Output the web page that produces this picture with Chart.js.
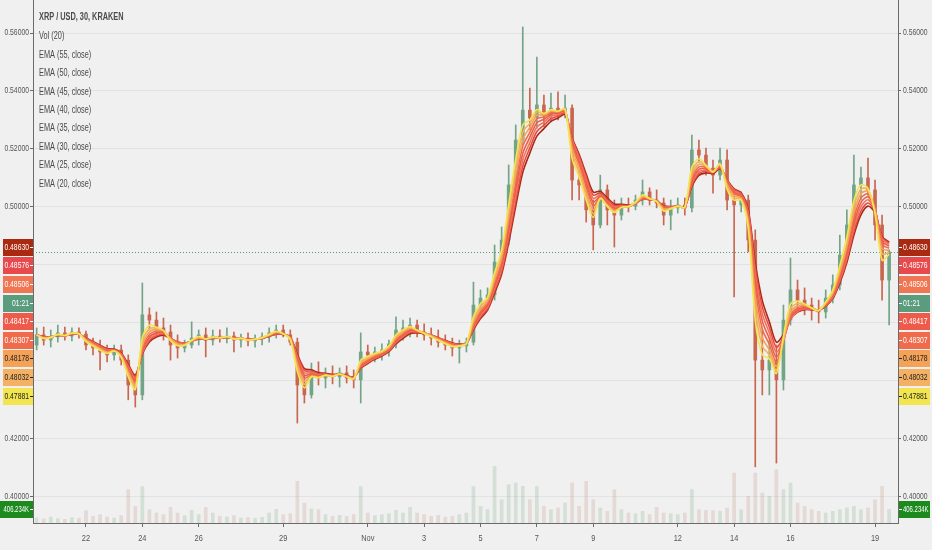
<!DOCTYPE html>
<html>
<head>
<meta charset="utf-8">
<title>XRP / USD, 30, KRAKEN</title>
<style>
  html, body { margin: 0; padding: 0; background: #f0f0f0; }
  #wrap { position: relative; width: 932px; height: 550px; }
</style>
</head>
<body>
<div id="wrap"><canvas id="chart"></canvas></div>
<script src="https://cdn.jsdelivr.net/npm/chart.js@4.4.0/dist/chart.umd.min.js"></script>
<script>
// XRP / USD 30m (Kraken), shown here as 6h candles, Oct 20 - Nov 19

// time line: day numbers counted from Oct 1 (Nov 1 = 32)
const firstCandleDay = 20.25;
const candleStepDays = 0.25;
const barsPerCandle = 12; // 30m bars inside one 6h candle

const dateTicks = [22, 24, 26, 29, 32, 34, 36, 38, 40, 43, 45, 47, 50];
const dateLabels = ["22", "24", "26", "29", "Nov", "3", "5", "7", "9", "12", "14", "16", "19"];
const priceTicks = [0.40, 0.42, 0.44, 0.46, 0.48, 0.50, 0.52, 0.54, 0.56];

const openP = [
  .4524,.4559,.4541,.4552,.4566,.4555,.4569,.4562,.4524,.4514,.4500,.4490,.4507,.4472,.4386,.4352,
  .4628,.4610,.4583,.4569,.4524,.4514,.4524,.4548,.4559,.4541,.4555,.4548,.4555,.4541,.4548,.4538,
  .4545,.4552,.4566,.4576,.4559,.4534,.4386,.4352,.4431,.4410,.4424,.4414,.4428,.4410,.4404,.4500,
  .4490,.4500,.4507,.4528,.4576,.4583,.4593,.4569,.4559,.4548,.4534,.4524,.4514,.4521,.4534,.4662,
  .4686,.4697,.4810,.4886,.5076,.5231,.5334,.5307,.5352,.5317,.5341,.5328,.5341,.5093,.5076,.4990,
  .4938,.5059,.4990,.4972,.5007,.5003,.5024,.5052,.5024,.5014,.4972,.4997,.5007,.4997,.5197,.5179,
  .5134,.5110,.5162,.5024,.5007,.5024,.4886,.4472,.4438,.4472,.4404,.4610,.4714,.4679,.4662,.4645,
  .4638,.4686,.4731,.4834,.4938,.5076,.5100,.5059,.4938,.4748
];
const highP = [
  .4583,.4586,.4576,.4593,.4586,.4583,.4583,.4572,.4548,.4541,.4524,.4524,.4524,.4490,.4421,.4738,
  .4652,.4638,.4617,.4593,.4559,.4541,.4604,.4576,.4583,.4576,.4576,.4583,.4569,.4562,.4566,.4559,
  .4566,.4583,.4593,.4593,.4576,.4548,.4421,.4462,.4466,.4445,.4452,.4445,.4452,.4438,.4566,.4524,
  .4517,.4528,.4541,.4621,.4610,.4617,.4610,.4597,.4583,.4576,.4559,.4548,.4541,.4548,.4741,.4714,
  .4721,.4869,.4931,.5145,.5283,.5621,.5410,.5517,.5386,.5393,.5397,.5386,.5352,.5128,.5093,.5024,
  .5110,.5076,.5024,.5031,.5031,.5041,.5093,.5066,.5059,.5031,.5024,.5031,.5031,.5248,.5231,.5203,
  .5162,.5203,.5197,.5059,.5052,.5041,.4921,.4576,.4541,.4524,.4662,.4824,.4748,.4721,.4686,.4679,
  .4714,.4766,.4903,.4990,.5179,.5138,.5169,.5093,.4972,.4852
];
const lowP = [
  .4507,.4524,.4517,.4534,.4541,.4538,.4548,.4507,.4490,.4438,.4466,.4472,.4455,.4335,.4310,.4335,
  .4576,.4559,.4541,.4472,.4479,.4500,.4514,.4524,.4483,.4524,.4534,.4531,.4500,.4517,.4521,.4517,
  .4524,.4534,.4548,.4552,.4524,.4255,.4324,.4341,.4386,.4376,.4390,.4379,.4393,.4376,.4324,.4466,
  .4466,.4472,.4486,.4514,.4541,.4552,.4552,.4541,.4524,.4517,.4507,.4486,.4462,.4500,.4524,.4628,
  .4645,.4679,.4790,.4869,.5014,.5214,.5266,.5272,.5276,.5293,.5300,.5307,.5024,.5024,.4948,.4852,
  .4928,.4938,.4862,.4955,.4983,.4990,.5007,.5007,.4997,.4938,.4921,.4979,.4972,.4983,.5155,.5110,
  .5048,.5093,.4990,.4690,.4983,.4845,.4104,.4352,.4352,.4117,.4369,.4593,.4645,.4628,.4610,.4600,
  .4617,.4669,.4714,.4810,.4921,.5024,.5041,.4886,.4679,.4593
];
const closeP = [
  .4559,.4541,.4552,.4566,.4555,.4569,.4562,.4524,.4514,.4500,.4490,.4507,.4472,.4386,.4352,.4628,
  .4610,.4583,.4569,.4524,.4514,.4524,.4548,.4559,.4541,.4555,.4548,.4555,.4541,.4548,.4538,.4545,
  .4552,.4566,.4576,.4559,.4534,.4386,.4352,.4431,.4410,.4424,.4414,.4428,.4410,.4404,.4500,.4490,
  .4500,.4507,.4528,.4576,.4583,.4593,.4569,.4559,.4548,.4534,.4524,.4514,.4521,.4534,.4662,.4686,
  .4697,.4810,.4886,.5076,.5231,.5334,.5307,.5352,.5317,.5341,.5328,.5341,.5093,.5076,.4990,.4938,
  .5059,.4990,.4972,.5007,.5003,.5024,.5052,.5024,.5014,.4972,.4997,.5007,.4997,.5197,.5179,.5134,
  .5110,.5162,.5024,.5007,.5024,.4886,.4472,.4438,.4472,.4404,.4610,.4714,.4679,.4662,.4645,.4638,
  .4686,.4731,.4834,.4938,.5076,.5100,.5059,.4938,.4748,.4845
];
// volume in thousands (K)
const volK = [
  150,120,180,130,110,160,140,370,200,250,180,150,220,1000,500,1090,
  400,300,250,470,300,220,380,250,470,300,200,180,220,150,160,140,
  170,300,410,250,280,1250,600,420,400,250,200,230,200,250,1090,300,
  220,250,280,380,300,470,300,250,200,230,180,200,250,300,1090,500,
  400,1700,700,1150,1200,1100,700,1090,500,400,450,600,1200,500,1250,700,
  450,350,1000,400,300,280,350,250,470,300,280,250,300,1000,400,380,
  370,350,450,1500,400,800,1500,900,800,1600,1000,1200,600,500,400,350,
  300,350,400,450,500,400,450,700,1100,406.234
];

const emaPeriods = [55, 50, 45, 40, 35, 30, 25, 20];
const emaLast = [0.48630, 0.48576, 0.48506, 0.48417, 0.48307, 0.48178, 0.48032, 0.47881];
const emaColors = ["#a92a10", "#e8494c", "#f07552", "#ee5b4a", "#f06b4b", "#f3a257", "#f4b163", "#f3e550"];
const emaText = ["#fff", "#fff", "#fff", "#fff", "#fff", "#222", "#222", "#222"];
const countdown = "01:21";

const titleText = "XRP / USD, 30, KRAKEN";
const legendLines = ["Vol (20)"].concat(emaPeriods.map(p => "EMA (" + p + ", close)"));

// view window of the pane
const viewStartDay = 20.12, viewEndDay = 50.815;
const priceMin = 0.39103, priceMax = 0.57138;
const volAxisMax = 15700;

const FONT = '"Liberation Sans", Arial, sans-serif';
const upColor = "#72a486", downColor = "#c8664f";
const axisText = "#555";

const candleDay = i => firstCandleDay + i * candleStepDays;
const isUp = i => closeP[i] >= openP[i];

function emaSeries(period) {
  const a = 1 - Math.pow(1 - 2 / (period + 1), barsPerCandle);
  let e = closeP[0];
  return closeP.map((c, i) => {
    if (i > 0) e = e + a * (c - e);
    return { x: candleDay(i), y: e };
  });
}

const candleColors = closeP.map((c, i) => isUp(i) ? upColor : downColor);
const volColors = closeP.map((c, i) => isUp(i) ? "rgba(130,175,140,0.26)" : "rgba(195,150,135,0.26)");

const datasets = [];
emaPeriods.forEach((p, k) => {
  datasets.push({
    type: 'line',
    label: "EMA " + p,
    data: emaSeries(p),
    borderColor: emaColors[k],
    borderWidth: 1.6,
    pointRadius: 0,
    tension: 0.3,
    yAxisID: 'y',
    order: emaPeriods.length - k   // fastest EMA drawn last, on top
  });
});
datasets.push({
  label: "Wick",
  data: closeP.map((c, i) => ({ x: candleDay(i), y: [lowP[i], highP[i]] })),
  backgroundColor: candleColors,
  barThickness: 1,
  grouped: false,
  yAxisID: 'y',
  order: 20
});
datasets.push({
  label: "Body",
  data: closeP.map((c, i) => ({ x: candleDay(i), y: [openP[i], c] })),
  backgroundColor: candleColors,
  barThickness: 3,
  minBarLength: 1,
  grouped: false,
  yAxisID: 'y',
  order: 19
});
datasets.push({
  label: "Vol",
  data: volK.map((v, i) => ({ x: candleDay(i), y: v })),
  backgroundColor: volColors,
  barThickness: 3,
  grouped: false,
  yAxisID: 'yv',
  order: 30
});

// condensed text, like the narrow face of the original
function narrowText(ctx, text, x, y, size, weight, sx, align, color) {
  ctx.save();
  ctx.font = weight + " " + size + "px " + FONT;
  ctx.fillStyle = color;
  ctx.textBaseline = 'middle';
  ctx.textAlign = align;
  ctx.translate(x, y);
  ctx.scale(sx, 1);
  ctx.fillText(text, 0, 0);
  ctx.restore();
}

function drawTag(ctx, side, py, text, bg, fg, wide) {
  const h = 17;
  const x = side === 'left' ? (wide ? 0 : 3) : 899;
  const w = side === 'left' ? 33 - x : 31;
  const ry = Math.round(py);
  const sx = wide ? 0.7 : 0.8;
  ctx.fillStyle = bg;
  ctx.fillRect(x, ry - 8, w, h);
  ctx.strokeStyle = fg;
  ctx.lineWidth = 1;
  ctx.beginPath();
  if (side === 'left') { ctx.moveTo(30, ry + 0.5); ctx.lineTo(33, ry + 0.5); }
  else { ctx.moveTo(899, ry + 0.5); ctx.lineTo(902, ry + 0.5); }
  ctx.stroke();
  if (side === 'left') narrowText(ctx, text, 29, ry + 0.5, 8.5, "normal", sx, 'right', fg);
  else narrowText(ctx, text, 903, ry + 0.5, 8.5, "normal", sx, 'left', fg);
}

const overlay = {
  id: 'overlay',
  beforeDatasetsDraw(chart) {
    const ctx = chart.ctx, a = chart.chartArea;
    const py = Math.round(chart.scales.y.getPixelForValue(closeP[closeP.length - 1])) + 0.5;
    ctx.save();
    ctx.strokeStyle = "#4f9b7c";
    ctx.lineWidth = 1;
    ctx.setLineDash([1, 2]);
    ctx.beginPath();
    ctx.moveTo(a.left, py); ctx.lineTo(a.right, py);
    ctx.stroke();
    ctx.restore();
  },
  afterDraw(chart) {
    const ctx = chart.ctx, y = chart.scales.y, x = chart.scales.x, yv = chart.scales.yv;
    const a = chart.chartArea;
    ctx.save();
    // axis labels
    priceTicks.forEach(v => {
      const py = y.getPixelForValue(v);
      narrowText(ctx, v.toFixed(5), 29, py, 8.5, "normal", 0.8, 'right', axisText);
      narrowText(ctx, v.toFixed(5), 903, py, 8.5, "normal", 0.8, 'left', axisText);
    });
    dateTicks.forEach((d, k) => {
      narrowText(ctx, dateLabels[k], x.getPixelForValue(d), a.bottom + 15, 9.5, "normal", 0.78, 'center', axisText);
    });

    // legend block
    narrowText(ctx, titleText, 39, 17, 10.5, "bold", 0.7, 'left', "#4a4a4a");
    legendLines.forEach((t, k) => narrowText(ctx, t, 39, 36.5 + k * 18.4, 10.5, "normal", 0.7, 'left', "#4a4a4a"));

    // price scale tags, stacked so they do not overlap
    const tags = emaLast.map((v, k) => ({ v, text: v.toFixed(5), bg: emaColors[k], fg: emaText[k] }));
    tags.push({ v: closeP[closeP.length - 1], text: countdown, bg: "#5b9c7e", fg: "#fff" });
    tags.sort((p, q) => q.v - p.v);
    let prev = -Infinity;
    tags.forEach(t => {
      let py = y.getPixelForValue(t.v);
      if (py < prev + 18.6) py = prev + 18.6;
      prev = py;
      drawTag(ctx, 'left', py, t.text, t.bg, t.fg, false);
      drawTag(ctx, 'right', py, t.text, t.bg, t.fg, false);
    });
    const lastVol = volK[volK.length - 1];
    const vy = yv.getPixelForValue(lastVol);
    const vText = lastVol.toFixed(3) + "K";
    drawTag(ctx, 'left', vy, vText, "#1d8a1d", "#fff", true);
    drawTag(ctx, 'right', vy, vText, "#1d8a1d", "#fff", true);
    ctx.restore();
  }
};

const yAxisBase = {
  min: priceMin,
  max: priceMax,
  afterBuildTicks: s => { s.ticks = priceTicks.map(v => ({ value: v })); },
  ticks: { display: false },
  border: { color: "#6a6a6a" }
};

new Chart(document.getElementById("chart").getContext('2d'), {
  type: 'bar',
  data: { datasets: datasets },
  options: {
    responsive: true,
    maintainAspectRatio: false,
    animation: false,
    layout: { padding: 0 },
    plugins: { legend: { display: false }, tooltip: { enabled: false } },
    events: [],
    scales: {
      x: {
        type: 'linear',
        min: viewStartDay,
        max: viewEndDay,
        offset: false,
        afterBuildTicks: s => { s.ticks = dateTicks.map(v => ({ value: v })); },
        afterFit: s => { s.height = 27; s.paddingLeft = 0; s.paddingRight = 0; },
        grid: { offset: false, drawOnChartArea: false, tickLength: 4, color: "#6a6a6a" },
        border: { color: "#6a6a6a" },
        ticks: { display: false }
      },
      y: Object.assign({}, yAxisBase, {
        position: 'left',
        afterFit: s => { s.width = 33; s.paddingTop = 0; s.paddingBottom = 0; },
        grid: { color: "#e2e2e2", tickLength: 3, tickColor: "#6a6a6a" }
      }),
      y2: Object.assign({}, yAxisBase, {
        position: 'right',
        afterFit: s => { s.width = 34; s.paddingTop = 0; s.paddingBottom = 0; },
        grid: { drawOnChartArea: false, tickLength: 3, color: "#6a6a6a" }
      }),
      yv: { display: false, min: 0, max: volAxisMax }
    }
  },
  plugins: [overlay]
});
</script>
</body>
</html>
